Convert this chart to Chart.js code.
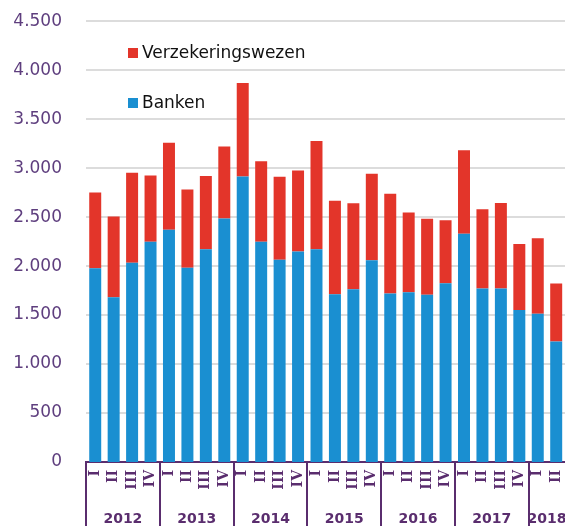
<!DOCTYPE html>
<html>
<head>
<meta charset="utf-8">
<script src="https://cdn.jsdelivr.net/npm/chart.js@4/dist/chart.umd.min.js"></script>
<style>
html,body{margin:0;padding:0;overflow:hidden;background:#fff;}
#wrap{position:relative;width:581px;height:539px;margin-top:-13px;}
</style>
</head>
<body>
<div id="wrap"><canvas id="c" width="581" height="539"></canvas></div>
<script>
// ---- data ----
const years = ['2012','2013','2014','2015','2016','2017','2018'];
const quartersPerYear = [4,4,4,4,4,4,2];
const quarterNames = ['I','II','III','IV'];
const banken = [1978,1683,2035,2248, 2370,1984,2171,2486, 2915,2248,2065,2150, 2171,1713,1764,2059, 1720,1734,1707,1825, 2330,1771,1771,1551, 1514,1229];
const verzekeringTotaal = [2750,2506,2953,2926, 3258,2783,2919,3220, 3870,3071,2912,2976, 3278,2668,2641,2942, 2739,2546,2482,2468, 3183,2580,2644,2225, 2283,1822];
const verzekeringswezen = verzekeringTotaal.map((t,i)=>t-banken[i]);
const yTickValues = [0,500,1000,1500,2000,2500,3000,3500,4000,4500];
const yTickLabels = ['0','500','1.000','1.500','2.000','2.500','3.000','3.500','4.000','4.500'];
const seriesNames = ['Banken','Verzekeringswezen'];

const categories = [];
years.forEach((y,i)=>{ for(let q=0;q<quartersPerYear[i];q++) categories.push(quarterNames[q]); });

const PURPLE = '#5e3e7e';
const AXIS = '#5a2d6e';
const RED = '#e3352a';
const BLUE = '#1a8fd1';
const SHIFT = 13;

const extras = {
  id:'extras',
  afterDraw(chart){
    const ctx = chart.ctx;
    const xs = chart.scales.x;
    const n = categories.length;
    const cw = (xs.right - xs.left)/n;
    const yTop = xs.top;
    const yBot = chart.height;
    ctx.save();
    ctx.strokeStyle = AXIS;
    ctx.lineWidth = 2;
    let idx = 0;
    ctx.font = 'bold 14px "DejaVu Sans"';
    ctx.fillStyle = AXIS;
    ctx.textAlign = 'center';
    ctx.textBaseline = 'alphabetic';
    years.forEach((y,i)=>{
      const x0 = xs.left + idx*cw;
      const x1 = x0 + quartersPerYear[i]*cw;
      ctx.beginPath(); ctx.moveTo(Math.round(x0), yTop); ctx.lineTo(Math.round(x0), yBot); ctx.stroke();
      ctx.fillText(y, (x0+x1)/2, yBot - 3);
      idx += quartersPerYear[i];
    });
    // legend
    ctx.font = '17px "DejaVu Sans"';
    ctx.textAlign = 'left';
    ctx.textBaseline = 'middle';
    const items = [[seriesNames[1], RED, 53],[seriesNames[0], BLUE, 103]];
    items.forEach(([t,c,y])=>{
      ctx.fillStyle = c;
      ctx.fillRect(128, y + SHIFT - 5, 10, 10);
      ctx.fillStyle = '#111';
      ctx.fillText(t, 142, y + SHIFT + 1);
    });
    ctx.restore();
  }
};

new Chart(document.getElementById('c'), {
  type:'bar',
  data:{
    labels: categories,
    datasets:[
      {label:seriesNames[0], data:banken, backgroundColor:BLUE, categoryPercentage:1, barPercentage:0.65},
      {label:seriesNames[1], data:verzekeringswezen, backgroundColor:RED, categoryPercentage:1, barPercentage:0.65}
    ]
  },
  options:{
    responsive:false,
    animation:false,
    layout:{padding:{top:6,left:0,right:0,bottom:0}},
    plugins:{legend:{display:false}, tooltip:{enabled:false}},
    scales:{
      x:{
        stacked:true,
        grid:{display:false, drawTicks:false},
        border:{display:true, color:AXIS, width:2},
        ticks:{autoSkip:false, minRotation:90, maxRotation:90, padding:8,
          color:AXIS, font:{family:'"DejaVu Serif"', size:14, weight:'bold'}},
        afterFit(s){ s.height = 64; }
      },
      y:{
        stacked:true,
        min:0, max:4500,
        afterBuildTicks(s){ s.ticks = yTickValues.map(v=>({value:v})); },
        grid:{color:'#dcdcdc', lineWidth:(c)=>c.tick && c.tick.value===0 ? 0 : 2, drawTicks:false},
        border:{display:false},
        ticks:{padding:24, color:PURPLE, font:{family:'"DejaVu Sans"', size:17},
          callback:(v,i)=>yTickLabels[i]},
        afterFit(s){ s.width = 86; }
      }
    }
  },
  plugins:[extras]
});
</script>
</body>
</html>
